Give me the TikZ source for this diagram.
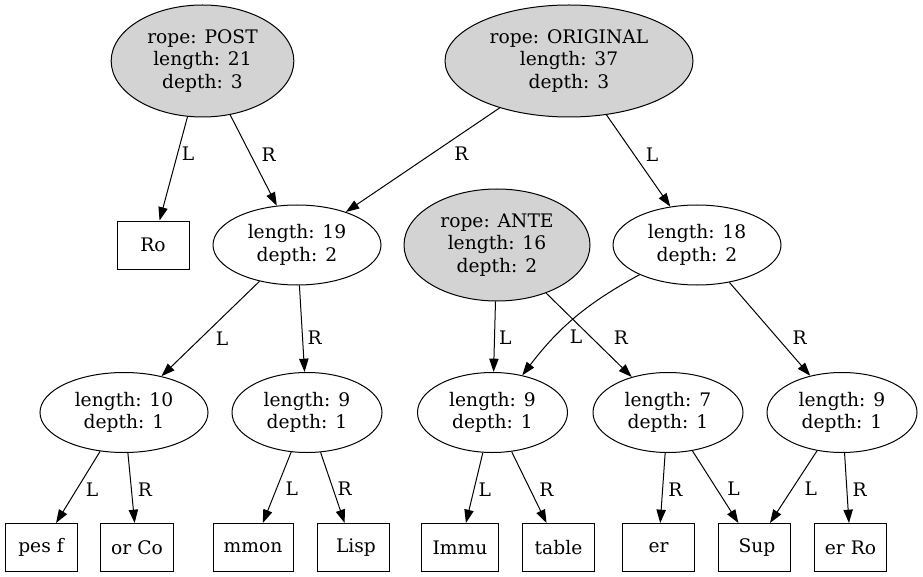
\documentclass[tikz,border=0pt]{standalone}
\usepackage{fontspec}
\setmainfont{DejaVu Serif}
\usetikzlibrary{
  arrows.meta,
  shapes.geometric
}
\definecolor{ropegray}{HTML}{D3D3D3}

\begin{document}
\begin{tikzpicture}[
      x=0.75pt, y=-0.75pt,
      rope/.style={
         ellipse,
         draw, line width=0.75pt,
         fill=ropegray,
         inner sep=0pt,
         minimum height=84pt,
         align=center,
         font=\fontsize{14}{17}\selectfont
      },
      concat/.style={
         ellipse,
         draw, line width=0.75pt,
         inner sep=0pt,
         minimum width=112.5pt,
         minimum height=60pt,
         align=center,
         font=\fontsize{14}{17}\selectfont
      },
      leaf/.style={
         rectangle,
         draw, line width=0.75pt,
         minimum width=54pt,
         minimum height=36pt,
         inner xsep=8pt, inner ysep=0pt,
         font=\fontsize{14}{17}\selectfont
      },
      lbl/.style={anchor=west, inner sep=0pt, pos=0.52, xshift=3pt,
         font=\fontsize{14}{17}\selectfont},
      branch/.style={->, line width=0.75pt},
      >={Triangle[length=10pt,width=7pt]}
    ]
    \useasboundingbox (0,0) rectangle (923,577);

    % ropes and their concat nodes
    \node (post) [rope, minimum width=137pt] at (202.5,61) {rope: POST\\length: 21\\depth: 3};
    \node (orig) [rope, minimum width=186pt] at (569,61) {rope: ORIGINAL\\length: 37\\depth: 3};
    \node (ro)   [leaf] at (153,245) {Ro};
    \node (n19)  [concat, minimum width=126pt] at (297,245) {length: 19\\depth: 2};
    \node (ante) [rope, minimum width=139.5pt] at (497,245) {rope: ANTE\\length: 16\\depth: 2};
    \node (n18)  [concat, minimum width=126pt] at (697,245) {length: 18\\depth: 2};
    \node (n10)  [concat, minimum width=126pt] at (124,412.5) {length: 10\\depth: 1};
    \node (n9a)  [concat] at (307,412.5) {length: 9\\depth: 1};
    \node (n9b)  [concat] at (492.5,412.5) {length: 9\\depth: 1};
    \node (n7)   [concat] at (668,412.5) {length: 7\\depth: 1};
    \node (n9c)  [concat] at (842,412.5) {length: 9\\depth: 1};

    % leaves
    \node (pesf)  [leaf] at (41,547.5) {pes f};
    \node (orco)  [leaf] at (137,547.5) {or Co};
    \node (mmon)  [leaf] at (253,547.5) {mmon};
    \node (lisp)  [leaf] at (353,547.5) {\ Lisp};
    \node (immu)  [leaf] at (460,547.5) {Immu};
    \node (table) [leaf] at (558.5,547.5) {table};
    \node (er)    [leaf] at (658.5,547.5) {er\ };
    \node (sup)   [leaf] at (754,547.5) {\ Sup};
    \node (erro)  [leaf] at (850.5,547.5) {er Ro};

    \draw[branch] (post) -- node[lbl, pos=0.36] {L} (ro);
    \draw[branch] (post) -- node[lbl, pos=0.435, xshift=5pt] {R} (n19);
    \draw[branch] (orig) -- node[lbl, pos=0.44, xshift=13.5pt] {R} (n19);
    \draw[branch] (orig) -- node[lbl, pos=0.43, xshift=5.5pt] {L} (n18);

    \draw[branch] (n19) -- node[lbl, pos=0.6, xshift=8pt] {L} (n10);
    \draw[branch] (n19) -- node[lbl, pos=0.6, xshift=0.5pt] {R} (n9a);
    \draw[branch] (ante) -- node[lbl, pos=0.52, xshift=0pt] {L} (n9b);
    \draw[branch] (ante) -- node[lbl, pos=0.535, xshift=13pt] {R} (n7);
    \draw[branch] (n18) to[bend right=12] node[lbl, pos=0.69, xshift=8pt] {L} (n9b);
    \draw[branch] (n18) -- node[lbl, pos=0.594, xshift=8pt] {R} (n9c);

    \draw[branch] (n10) -- node[lbl, pos=0.53, xshift=3.5pt] {L} (pesf);
    \draw[branch] (n10) -- node[lbl, xshift=1.5pt] {R} (orco);
    \draw[branch] (n9a) -- node[lbl, xshift=3.5pt] {L} (mmon);
    \draw[branch] (n9a) -- node[lbl] {R} (lisp);
    \draw[branch] (n9b) -- node[lbl] {L} (immu);
    \draw[branch] (n9b) -- node[lbl, pos=0.53, xshift=3.5pt] {R} (table);
    \draw[branch] (n7) -- node[lbl, xshift=1pt] {R} (er);
    \draw[branch] (n7) -- node[lbl, pos=0.53, xshift=4.5pt] {L} (sup);
    \draw[branch] (n9c) -- node[lbl, pos=0.53, xshift=6pt] {L} (sup);
    \draw[branch] (n9c) -- node[lbl, xshift=1pt] {R} (erro);
\end{tikzpicture}
\end{document}
